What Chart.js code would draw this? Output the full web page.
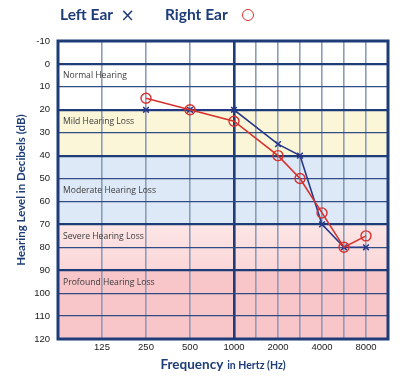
<!DOCTYPE html>
<html><head><meta charset="utf-8">
<script src="https://cdn.jsdelivr.net/npm/chart.js@4.4.1/dist/chart.umd.min.js"></script>
<style>
html,body{margin:0;padding:0;background:#fff;}
#wrap{position:relative;width:400px;height:377px;overflow:hidden;}
#c{position:absolute;left:0;top:0;}
.lg{position:absolute;top:5px;font-family:Lato,sans-serif;font-weight:bold;color:#1d3c78;font-size:15.5px;white-space:nowrap;}
#xt{position:absolute;left:0;width:446px;top:353px;text-align:center;font-family:Lato,sans-serif;font-weight:bold;color:#1d3c78;white-space:nowrap;}
</style>
</head><body>
<div id="wrap">
<canvas id="c" width="400" height="377"></canvas>
<div class="lg" style="left:60px;">Left Ear <span style="font-weight:normal;font-family:'DejaVu Sans';font-size:17px;margin-left:4px;vertical-align:-1px;">×</span></div>
<div class="lg" style="left:165px;">Right Ear <span style="display:inline-block;width:10px;height:10px;border:1.6px solid #d7312e;border-radius:50%;margin-left:11px;vertical-align:-1px;"></span></div>
<div id="xt"><span style="font-size:13.5px;">Frequency</span> <span style="font-size:10.5px;">in Hertz (Hz)</span></div>
</div>
<script>
// ---- data ----
const gridFrequencies = [125, 250, 500, 1000, 1500, 2000, 3000, 4000, 6000, 8000];
const labeledFrequencies = [125, 250, 500, 1000, 2000, 4000, 8000];
const leftEarFrequencies = [250, 500, 1000, 2000, 3000, 4000, 6000, 8000];
const leftEarDb = [20, 20, 20, 35, 40, 70, 80, 80];
const rightEarFrequencies = [250, 500, 1000, 2000, 3000, 4000, 6000, 8000];
const rightEarDb = [15, 20, 25, 40, 50, 65, 80, 75];
const dbTicks = [-10, 0, 10, 20, 30, 40, 50, 60, 70, 80, 90, 100, 110, 120];
const bandNames = ['Normal Hearing', 'Mild Hearing Loss', 'Moderate Hearing Loss', 'Severe Hearing Loss', 'Profound Hearing Loss'];
const bandFrom = [0, 20, 40, 70, 90];
const bandTo = [20, 40, 70, 90, 120];
const bandLabelAt = [5, 25, 55, 75, 95];
const bandColors = ['#ffffff', '#fcf6d8', '#dde9f6', ['#fde6e6', '#fbd6d8'], '#f8c5c8'];

// audiogram position: octaves from 125 Hz, half-octave frequencies on the half step
const freqPos = f => Math.round(2 * Math.log2(f / 125)) / 2 + 1;
const NAVY = '#1d3c78';

const bandsPlugin = {
  id: 'bands',
  beforeDraw(chart) {
    const {ctx, chartArea: a, scales: {y}} = chart;
    ctx.save();
    bandFrom.forEach((from, i) => {
      const y0 = y.getPixelForValue(from), y1 = y.getPixelForValue(bandTo[i]);
      let fill = bandColors[i];
      if (Array.isArray(fill)) {
        const g = ctx.createLinearGradient(0, y0, 0, y1);
        g.addColorStop(0, fill[0]); g.addColorStop(1, fill[1]);
        fill = g;
      }
      ctx.fillStyle = fill;
      ctx.fillRect(a.left, y0, a.right - a.left, y1 - y0);
    });
    ctx.restore();
  },
  beforeDatasetsDraw(chart) {
    const {ctx, chartArea: a, scales: {y}} = chart;
    ctx.save();
    ctx.font = '8.6px "Open Sans", sans-serif';
    ctx.fillStyle = '#3a3a3a';
    ctx.textBaseline = 'middle';
    bandNames.forEach((n, i) => ctx.fillText(n, a.left + 5, y.getPixelForValue(bandLabelAt[i]) + 0.5));
    ctx.restore();
  },
  afterDatasetsDraw(chart) {
    const {ctx, chartArea: a} = chart;
    ctx.save();
    ctx.strokeStyle = NAVY;
    ctx.lineWidth = 3;
    ctx.strokeRect(a.left, a.top, a.right - a.left, a.bottom - a.top);
    ctx.restore();
  }
};

new Chart(document.getElementById('c'), {
  type: 'line',
  data: {
    datasets: [
      {
        label: 'Right Ear',
        data: rightEarFrequencies.map((f, i) => ({x: freqPos(f), y: rightEarDb[i]})),
        borderColor: '#d7312e', borderWidth: 1.6,
        pointStyle: 'circle', pointRadius: 5, pointBorderWidth: 1.4,
        pointBackgroundColor: 'rgba(0,0,0,0)', pointBorderColor: '#d7312e',
        tension: 0, clip: false
      },
      {
        label: 'Left Ear',
        data: leftEarFrequencies.map((f, i) => ({x: freqPos(f), y: leftEarDb[i]})),
        borderColor: '#27388a', borderWidth: 1.6,
        pointStyle: 'crossRot', pointRadius: 4, pointBorderWidth: 1.5,
        pointBorderColor: '#27388a',
        tension: 0, clip: false
      }
    ]
  },
  options: {
    responsive: false, animation: false,
    layout: {padding: {top: 41, right: 12, left: 0, bottom: 0}},
    plugins: {legend: {display: false}, tooltip: {enabled: false}},
    scales: {
      x: {
        type: 'linear', min: 0, max: freqPos(8000) + 0.5,
        afterBuildTicks: s => { s.ticks = gridFrequencies.map(f => ({value: freqPos(f)})); },
        afterFit: s => { s.height = 38; },
        ticks: {
          autoSkip: false, maxRotation: 0, padding: 3,
          font: {family: 'Liberation Sans', size: 9.5}, color: '#1a1a1a',
          callback: v => { const f = labeledFrequencies.find(q => freqPos(q) === v); return f ? String(f) : ''; }
        },
        grid: {
          drawTicks: false,
          color: c => c.tick && c.tick.value === freqPos(1000) ? NAVY : '#8a9dbb',
          lineWidth: c => c.tick && c.tick.value === freqPos(1000) ? 2.6 : 1.6
        },
        border: {display: false}
      },
      y: {
        type: 'linear', reverse: true, min: dbTicks[0], max: dbTicks[dbTicks.length - 1],
        afterBuildTicks: s => { s.ticks = dbTicks.map(v => ({value: v})); },
        afterFit: s => { s.width = 58; },
        ticks: {padding: 8, font: {family: 'Liberation Sans', size: 9.5}, color: '#1a1a1a'},
        grid: {
          drawTicks: false,
          color: c => c.tick && bandFrom.includes(c.tick.value) ? NAVY : '#2f4d84',
          lineWidth: c => c.tick && bandFrom.includes(c.tick.value) ? 2.2 : 1.2
        },
        border: {display: false},
        title: {
          display: true, text: 'Hearing Level in Decibels (dB)', color: NAVY,
          font: {family: 'Lato', weight: 'bold', size: 11.5}, padding: {top: 14, bottom: 0}
        }
      }
    }
  },
  plugins: [bandsPlugin]
});
</script>
</body></html>
